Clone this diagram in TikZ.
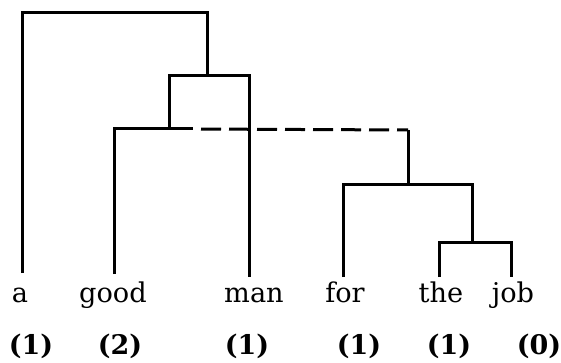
\documentclass[tikz,border=0pt]{standalone}
\usepackage{fontspec}
\setmainfont{DejaVu Serif}
\usetikzlibrary{calc}
\tikzset{
	x=0.5pt, y=-0.5pt, % pixel-like units, y runs downwards
	word/.style={anchor=base, inner sep=0pt, font=\fontsize{13.6}{16}\selectfont}, % the words of the sentence
	count/.style={anchor=base, inner sep=0pt, font=\fontsize{13.5}{15}\selectfont\bfseries}, % the numbers below the words
	link/.style={dash pattern=on 10pt off 4pt, dash phase=10pt}, % the dashed branch
}

\begin{document}
\begin{tikzpicture}[line width=1.5pt]
	\useasboundingbox (0,0) rectangle (561,363);
	
	% Words
	\node[word] (a) at (20,302) {a};
	\node[word] (good) at (113,302) {good};
	\node[word] (man) at (254,302) {man};
	\node[word] (for) at (345,302) {for};
	\node[word] (the) at (441,302) {the};
	\node[word] (job) at (513,302) {job};
	
	% Counts
	\node[count] (ca) at (31,354) {(1)};
	\node[count] (cgood) at (120,354) {(2)};
	\node[count] (cman) at (247,354) {(1)};
	\node[count] (cfor) at (359,354) {(1)};
	\node[count] (cthe) at (449,354) {(1)};
	\node[count] (cjob) at (539,354) {(0)};
	
	% Leaf ends
	\coordinate (ta) at (22,273);
	\coordinate (tgood) at (114,274);
	\coordinate (tman) at (249,277);
	\coordinate (tfor) at (343,277);
	\coordinate (tthe) at (439,277);
	\coordinate (tjob) at (511,277);
	
	% Joins
	\coordinate (root) at (207,13);
	\coordinate (n1) at (207,76);
	\coordinate (n2) at (169,129);
	\coordinate (d1) at (193,129);
	\coordinate (d2) at (408,130);
	\coordinate (n3) at (408,185);
	\coordinate (n4) at (472,242);
	
	% Tree
	\draw (ta) |- (root) -- (n1);
	\draw (n2) |- (n1) -| (tman);
	\draw (tgood) |- (n2) -- (d1);
	\draw[link] (d1) -- (d2);
	\draw (d2) -- (n3);
	\draw (tfor) |- (n3) -| (n4);
	\draw (tthe) |- (n4) -| (tjob);
	
\end{tikzpicture}
\end{document}
